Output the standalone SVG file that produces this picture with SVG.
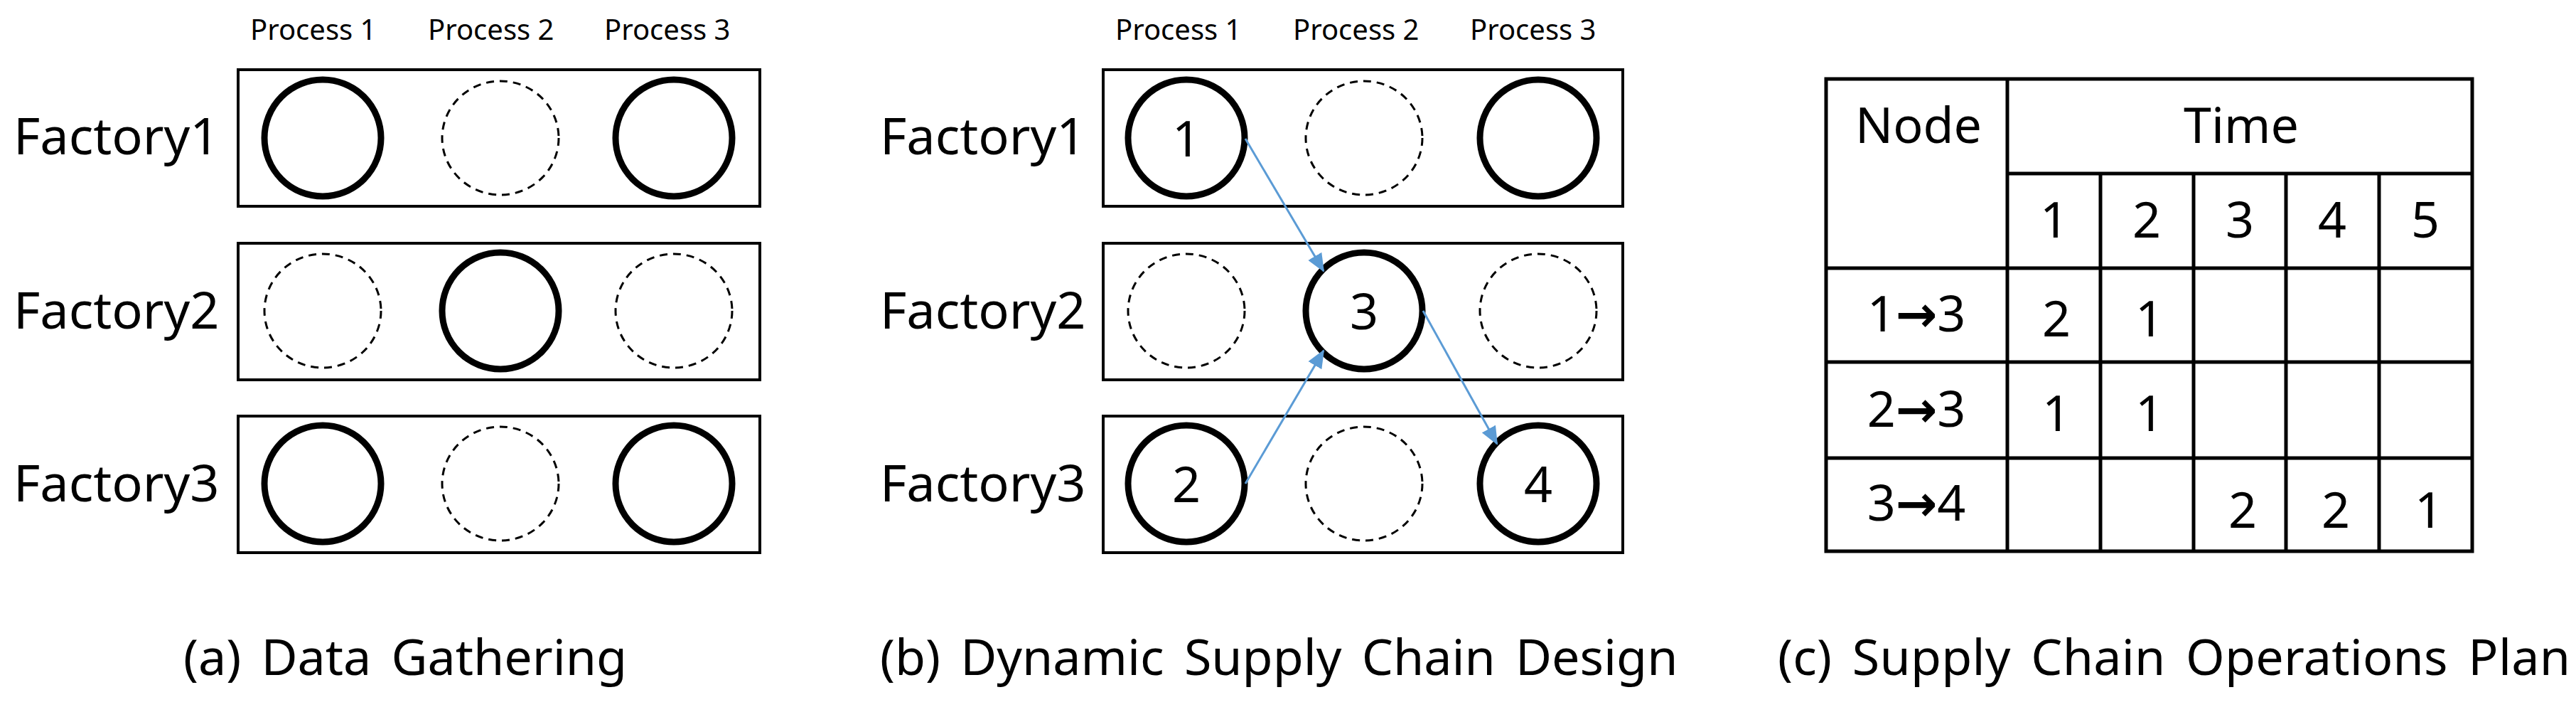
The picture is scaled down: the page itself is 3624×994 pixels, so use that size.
<svg xmlns="http://www.w3.org/2000/svg" width="3624" height="994" viewBox="0 0 3624 994">
<style>
text{font-family:"Noto Sans","Liberation Sans",sans-serif;fill:#000}
.fl{font-size:72px}
.pl{font-size:40px}
.cap{font-size:70px;word-spacing:10px}
.tb{font-size:70px;text-anchor:middle}
.box{fill:#fff;stroke:#000;stroke-width:4}
.on{fill:none;stroke:#000;stroke-width:9}
.off{fill:none;stroke:#000;stroke-width:3;stroke-dasharray:11 8}
.ar{stroke:#5B9BD5;stroke-width:3;fill:none}
.tl{stroke:#000;stroke-width:5;fill:none}
.num{font-size:70px;text-anchor:middle}
.arr{font-family:"DejaVu Sans",sans-serif;font-weight:bold}
</style>
<defs><marker id="ah" markerWidth="26" markerHeight="22" refX="24" refY="11" orient="auto" markerUnits="userSpaceOnUse" viewBox="0 0 26 22"><path d="M0,0 L26,11 L0,22 z" fill="#5B9BD5"/></marker></defs>
<rect width="3624" height="994" fill="#fff"/>
<g id="panel-a">
<text class="pl" x="352" y="56">Process 1</text><text class="pl" x="602" y="56">Process 2</text><text class="pl" x="850" y="56">Process 3</text>
<g id="a-f1"><rect class="box" x="335" y="98" width="734" height="192"/><text class="fl" x="19" y="217">Factory1</text>
<ellipse class="on" cx="454" cy="194" rx="82" ry="82"/><ellipse class="off" cx="704" cy="194" rx="82" ry="80"/><ellipse class="on" cx="948" cy="194" rx="82" ry="82"/></g>
<g id="a-f2"><rect class="box" x="335" y="342" width="734" height="192"/><text class="fl" x="19" y="462">Factory2</text>
<ellipse class="off" cx="454" cy="437" rx="82" ry="80"/><ellipse class="on" cx="704" cy="437" rx="82" ry="82"/><ellipse class="off" cx="948" cy="437" rx="82" ry="80"/></g>
<g id="a-f3"><rect class="box" x="335" y="585" width="734" height="192"/><text class="fl" x="19" y="705">Factory3</text>
<ellipse class="on" cx="454" cy="680" rx="82" ry="82"/><ellipse class="off" cx="704" cy="680" rx="82" ry="80"/><ellipse class="on" cx="948" cy="680" rx="82" ry="82"/></g>
<text class="cap" x="258" y="949">(a) Data Gathering</text>
</g>
<g id="panel-b">
<text class="pl" x="1569" y="56">Process 1</text><text class="pl" x="1819" y="56">Process 2</text><text class="pl" x="2068" y="56">Process 3</text>
<g id="b-f1"><rect class="box" x="1552" y="98" width="731" height="192"/><text class="fl" x="1238" y="217">Factory1</text>
<ellipse class="on" cx="1669" cy="194" rx="82" ry="82"/><ellipse class="off" cx="1919" cy="194" rx="82" ry="80"/><ellipse class="on" cx="2164" cy="194" rx="82" ry="82"/>
<text class="num" x="1669" y="220">1</text></g>
<g id="b-f2"><rect class="box" x="1552" y="342" width="731" height="192"/><text class="fl" x="1238" y="462">Factory2</text>
<ellipse class="off" cx="1669" cy="437" rx="82" ry="80"/><ellipse class="on" cx="1919" cy="437" rx="82" ry="82"/><ellipse class="off" cx="2164" cy="437" rx="82" ry="80"/>
<text class="num" x="1919" y="463">3</text></g>
<g id="b-f3"><rect class="box" x="1552" y="585" width="731" height="192"/><text class="fl" x="1238" y="705">Factory3</text>
<ellipse class="on" cx="1669" cy="680" rx="82" ry="82"/><ellipse class="off" cx="1919" cy="680" rx="82" ry="80"/><ellipse class="on" cx="2164" cy="680" rx="82" ry="82"/>
<text class="num" x="1669" y="706">2</text><text class="num" x="2164" y="706">4</text></g>
<g id="connectors">
<line class="ar" marker-end="url(#ah)" x1="1752" y1="195" x2="1862" y2="381"/>
<line class="ar" marker-end="url(#ah)" x1="1752" y1="680" x2="1862" y2="493"/>
<line class="ar" marker-end="url(#ah)" x1="2002" y1="437" x2="2106" y2="624"/>
</g>
<text class="cap" x="1238" y="949">(b) Dynamic Supply Chain Design</text>
</g>
<g id="panel-c">
<rect class="tl" x="2569" y="111" width="909" height="664"/>
<path class="tl" d="M2824 111V775M2824 244H3478M2569 377H3478M2569 509H3478M2569 644H3478M2955 244V775M3086 244V775M3216 244V775M3347 244V775"/>
<text class="tb" x="2699" y="201">Node</text><text class="tb" x="3153" y="201">Time</text>
<text class="tb" x="2890" y="334">1</text><text class="tb" x="3020" y="334">2</text><text class="tb" x="3151" y="334">3</text><text class="tb" x="3281" y="334">4</text><text class="tb" x="3412" y="334">5</text>
<text class="tb" x="2696" y="466">1<tspan class="arr">→</tspan>3</text><text class="tb" x="2893" y="473">2</text><text class="tb" x="3024" y="473">1</text>
<text class="tb" x="2696" y="600">2<tspan class="arr">→</tspan>3</text><text class="tb" x="2893" y="606">1</text><text class="tb" x="3024" y="606">1</text>
<text class="tb" x="2696" y="732">3<tspan class="arr">→</tspan>4</text><text class="tb" x="3155" y="742">2</text><text class="tb" x="3286" y="742">2</text><text class="tb" x="3417" y="742">1</text>
<text class="cap" x="2501" y="949" textLength="1115" lengthAdjust="spacing">(c) Supply Chain Operations Plan</text>
</g>
</svg>
